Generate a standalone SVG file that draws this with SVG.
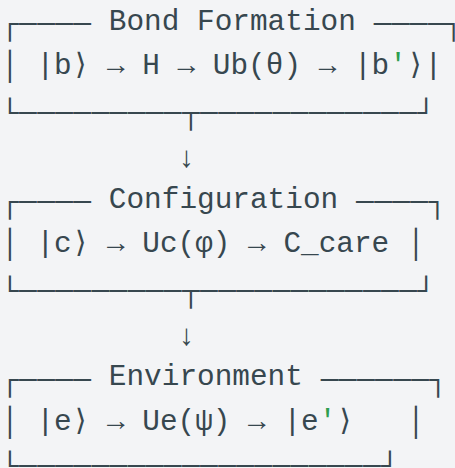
<svg xmlns="http://www.w3.org/2000/svg" width="455" height="468" viewBox="0 0 455 468">
<style>
text { font-family: "Liberation Mono", "DejaVu Sans Mono", monospace; font-size: 29.4px; fill: #37474f; text-anchor: middle; white-space: pre; }
.p { fill: #2e9e4f; }
</style>
<rect x="0" y="0" width="455" height="468" fill="#f3f4f6"/>
<g id="bond-formation">
<text xml:space="preserve" y="33.3" x="9.75 27.85 45.95 64.05 82.15">┌────</text>
<text xml:space="preserve" y="29.8" x="100.02 117.66 135.30 152.94 170.58 188.22 205.86 223.50 241.14 258.78 276.42 294.06 311.70 329.34 346.98 364.62"> Bond Formation </text>
<text xml:space="preserve" y="33.3" x="382.49 400.59 418.69 436.79 453.6">────┐</text>
<text xml:space="preserve" y="74.25" x="9.75 27.62 45.26 62.90 80.54 98.18 115.82 133.46 151.10 168.74 186.38 204.02 221.66 239.30 256.94 274.58 292.22 309.86 327.50 345.14 362.78 380.42">│ |b⟩ → H → Ub(θ) → |b</text>
<text xml:space="preserve" class="p" y="74.25" x="398.06">'</text>
<text xml:space="preserve" y="74.25" x="415.70 433.34">⟩|</text>
<text xml:space="preserve" y="122.2" x="9.75 27.85 45.95 64.05 82.15 100.25 118.35 136.45 154.55 172.65">└─────────</text>
<text xml:space="preserve" y="122.2" x="208.85 226.95 245.05 263.15 281.25 299.35 317.45 335.55 353.65 371.75 389.85 407.95 426.05">────────────┘</text>
</g>
<g id="configuration">
<text xml:space="preserve" y="211.1" x="9.75 27.85 45.95 64.05 82.15">┌────</text>
<text xml:space="preserve" y="207.6" x="100.02 117.66 135.30 152.94 170.58 188.22 205.86 223.50 241.14 258.78 276.42 294.06 311.70 329.34 346.98"> Configuration </text>
<text xml:space="preserve" y="211.1" x="364.85 382.95 401.05 419.15 437.25">────┐</text>
<text xml:space="preserve" y="252.05" x="9.75 27.62 45.26 62.90 80.54 98.18 115.82 133.46 151.10 168.74 186.38 204.02 221.66 239.30 256.94 274.58 292.22 309.86 327.50 345.14 362.78 380.42 398.06 415.93">│ |c⟩ → Uc(φ) → C_care │</text>
<text xml:space="preserve" y="300" x="9.75 27.85 45.95 64.05 82.15 100.25 118.35 136.45 154.55 172.65">└─────────</text>
<text xml:space="preserve" y="300" x="208.85 226.95 245.05 263.15 281.25 299.35 317.45 335.55 353.65 371.75 389.85 407.95 426.05">────────────┘</text>
</g>
<g id="environment">
<text xml:space="preserve" y="388.9" x="9.75 27.85 45.95 64.05 82.15">┌────</text>
<text xml:space="preserve" y="385.4" x="100.02 117.66 135.30 152.94 170.58 188.22 205.86 223.50 241.14 258.78 276.42 294.06 311.70"> Environment </text>
<text xml:space="preserve" y="388.9" x="329.57 347.67 365.77 383.87 401.97 420.07 438.17">──────┐</text>
<text xml:space="preserve" y="429.85" x="9.75 27.62 45.26 62.90 80.54 98.18 115.82 133.46 151.10 168.74 186.38 204.02 221.66 239.30 256.94 274.58 292.22 309.86">│ |e⟩ → Ue(ψ) → |e</text>
<text xml:space="preserve" class="p" y="429.85" x="327.50">'</text>
<text xml:space="preserve" y="429.85" x="345.14 362.78 380.42 398.06 415.93">⟩   │</text>
<text xml:space="preserve" y="475.3" x="9.75 27.85 45.95 64.05 82.15 100.25 118.35 136.45 154.55 172.65 190.75 208.85 226.95 245.05 263.15 281.25 299.35 317.45 335.55 353.65 371.75 389.85">└────────────────────┘</text>
</g>
<g id="connectors">
<text xml:space="preserve" y="122.2" x="190.75">┬</text>
<text xml:space="preserve" y="167.15" x="186.5">↓</text>
<text xml:space="preserve" y="300" x="190.75">┬</text>
<text xml:space="preserve" y="344.95" x="186.5">↓</text>
</g>
</svg>
